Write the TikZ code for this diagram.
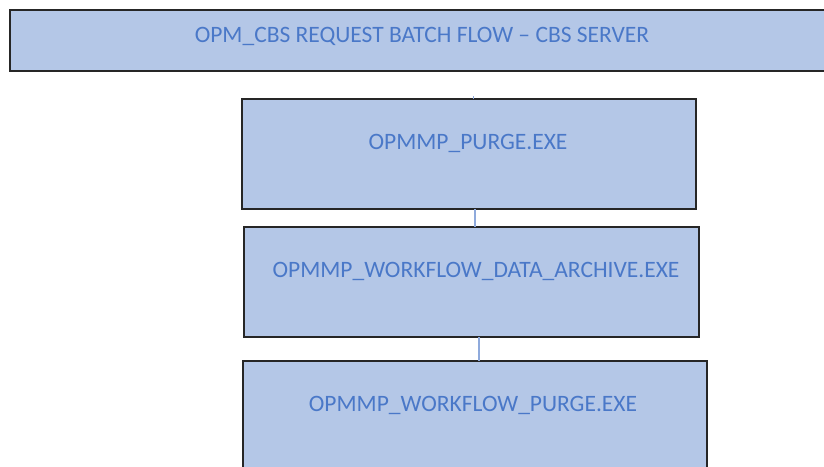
\documentclass[tikz,border=0pt]{standalone}
\usepackage{fontspec}
\setmainfont{Carlito}
\definecolor{boxfill}{HTML}{B4C7E7}
\definecolor{boxtext}{HTML}{4A78C8}
\definecolor{linkc}{HTML}{8FAADC}
\definecolor{edge}{HTML}{262626}
\begin{document}
\begin{tikzpicture}[x=1pt,y=-1pt,
  blockbox/.style={draw=edge,line width=1.5pt,fill=boxfill},
  lbl/.style={text=boxtext,font=\fontsize{23.5}{26}\selectfont,anchor=center,inner sep=0pt},
  link/.style={draw=linkc,line width=2pt}]
\useasboundingbox (0,0) rectangle (824,466);
\begin{scope}
\clip (0,0) rectangle (824,466);
\draw[blockbox] (10,10) rectangle (834,71);
\node[lbl] (title) at (422,36) {OPM\_CBS REQUEST BATCH FLOW – CBS SERVER};
\coordinate (topc) at (473,96);
\draw[blockbox] (242,99) rectangle (696,209);
\coordinate (b1t) at (473,99);
\coordinate (b1b) at (475,209);
\node[lbl] (t1) at (468,143) {OPMMP\_PURGE.EXE};
\draw[blockbox] (244,227) rectangle (699,337);
\coordinate (b2t) at (475,227);
\coordinate (b2b) at (479,337);
\node[lbl] (t2) at (476,271) {OPMMP\_WORKFLOW\_DATA\_ARCHIVE.EXE};
\draw[blockbox] (243,361) rectangle (707,476);
\coordinate (b3t) at (479,361);
\node[lbl] (t3) at (473,405) {OPMMP\_WORKFLOW\_PURGE.EXE};
\draw[link,line width=1pt] (topc) -- (b1t);
\draw[link] (b1b) -- (b2t);
\draw[link] (b2b) -- (b3t);
\end{scope}
\end{tikzpicture}
\end{document}
